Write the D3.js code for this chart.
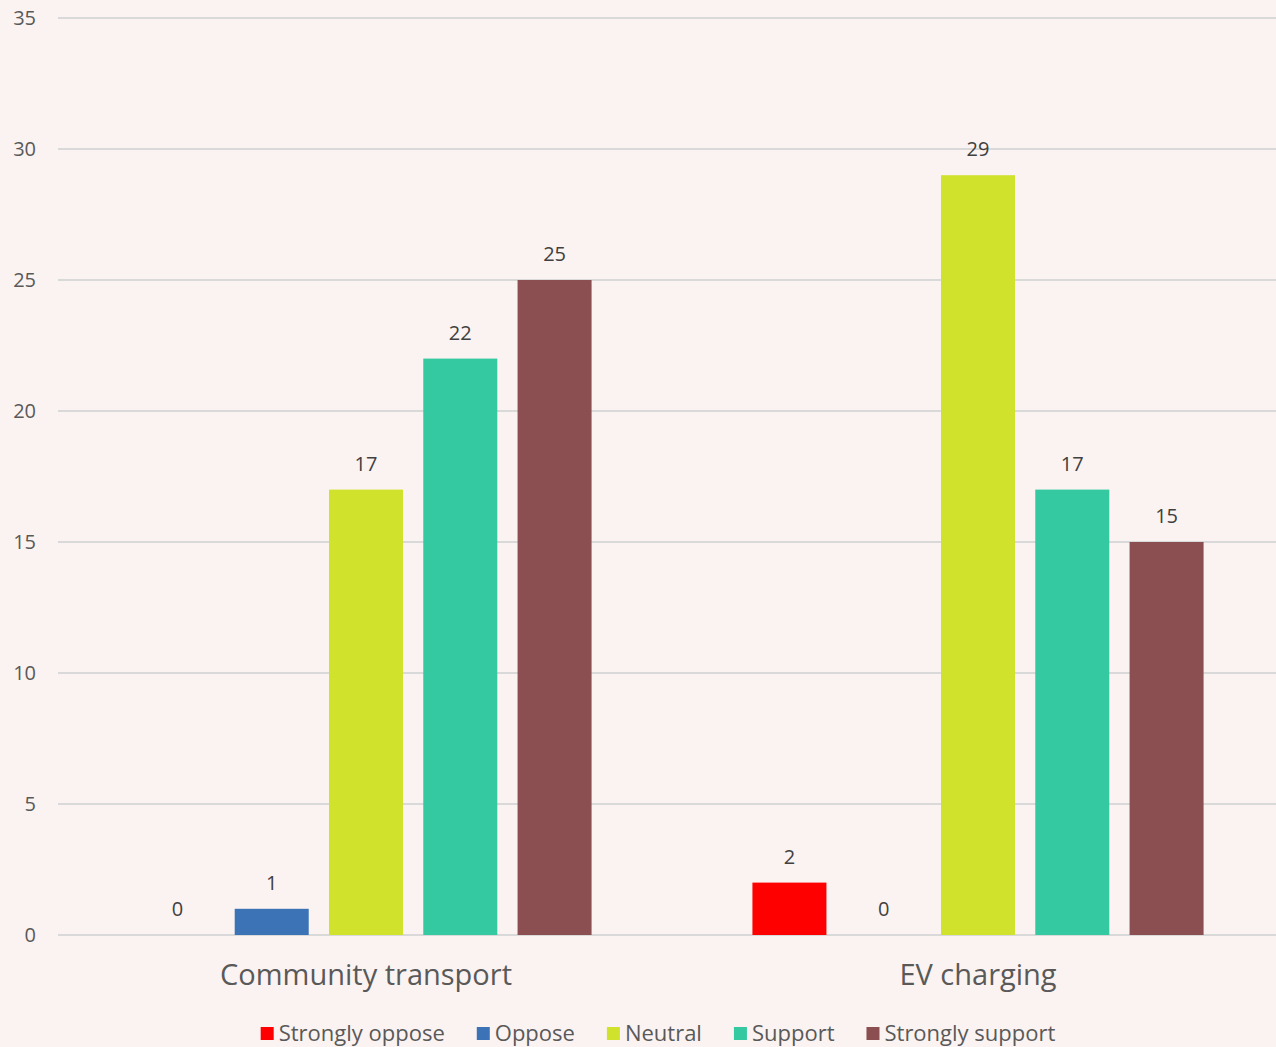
<!DOCTYPE html>
<html>
  <head>
    <meta charset="utf-8">
    <script src="https://d3js.org/d3.v7.min.js"></script>
    <style>
      body { margin: 0px; background-color: #FBF3F1; }
      svg { display: block; background-color: #FBF3F1; }
      .tick-label { fill: #595959; font-size: 20px; font-family: 'Open Sans', sans-serif; }
      .value-label { fill: #404040; font-size: 20px; font-family: 'Open Sans', sans-serif; }
      .cat-label { fill: #595959; font-size: 29px; font-family: 'Open Sans', sans-serif; }
      .legend-label { fill: #595959; font-size: 22px; font-family: 'Open Sans', sans-serif; }
    </style>
  </head>
  <body>
    <div id="graph"></div>
    <script>
      // data
      const categories = ['Community transport', 'EV charging'];
      const seriesNames = ['Strongly oppose', 'Oppose', 'Neutral', 'Support', 'Strongly support'];
      const seriesColors = ['#FF0000', '#3C73B6', '#D0E22C', '#34C9A0', '#8B4F52'];
      const communityValues = [0, 1, 17, 22, 25];
      const evValues = [2, 0, 29, 17, 15];
      const yTicks = [0, 5, 10, 15, 20, 25, 30, 35];

      const valuesByCat = [communityValues, evValues];

      const width = 1276, height = 1047;
      const svg = d3.select('#graph').append('svg')
        .attr('width', width)
        .attr('height', height);

      const yScale = d3.scaleLinear()
        .domain([0, 35])
        .range([935, 18]);

      const x0 = d3.scaleBand()
        .domain(categories)
        .range([60, 1284])
        .padding(0);

      const x1 = d3.scaleBand()
        .domain(seriesNames)
        .range([0, x0.bandwidth()])
        .paddingInner(0.215)
        .paddingOuter(0.853);

      // gridlines
      svg.append('g').selectAll('line')
        .data(yTicks)
        .enter().append('line')
          .attr('x1', 58)
          .attr('x2', width)
          .attr('y1', d => yScale(d))
          .attr('y2', d => yScale(d))
          .attr('stroke', '#D9D9D9')
          .attr('stroke-width', 2);

      // y tick labels
      svg.append('g').selectAll('text')
        .data(yTicks)
        .enter().append('text')
          .attr('class', 'tick-label')
          .attr('x', 36)
          .attr('y', d => yScale(d))
          .attr('dy', '0.35em')
          .attr('text-anchor', 'end')
          .text(d => d);

      // bars
      const groups = svg.append('g').selectAll('g')
        .data(categories)
        .enter().append('g')
          .attr('transform', d => `translate(${x0(d)},0)`);

      const barData = (c, i) => seriesNames.map((s, j) => ({ s: s, v: valuesByCat[i][j], color: seriesColors[j] }));

      groups.selectAll('rect')
        .data(barData)
        .enter().append('rect')
          .attr('x', d => x1(d.s))
          .attr('width', x1.bandwidth())
          .attr('y', d => yScale(d.v))
          .attr('height', d => yScale(0) - yScale(d.v))
          .attr('fill', d => d.color);

      groups.selectAll('text.value-label')
        .data(barData)
        .enter().append('text')
          .attr('class', 'value-label')
          .attr('x', d => x1(d.s) + x1.bandwidth() / 2)
          .attr('y', d => yScale(d.v) - 19)
          .attr('text-anchor', 'middle')
          .text(d => d.v);

      // category labels
      svg.append('g').selectAll('text')
        .data(categories)
        .enter().append('text')
          .attr('class', 'cat-label')
          .attr('x', d => x0(d) + x0.bandwidth() / 2)
          .attr('y', 985)
          .attr('text-anchor', 'middle')
          .text(d => d);

      // legend
      const legendG = svg.append('g');
      let lx = 0;
      seriesNames.forEach((s, i) => {
        const item = legendG.append('g').attr('transform', `translate(${lx},0)`);
        item.append('rect')
          .attr('x', 0)
          .attr('y', 1027)
          .attr('width', 13)
          .attr('height', 13)
          .attr('fill', seriesColors[i]);
        const t = item.append('text')
          .attr('class', 'legend-label')
          .attr('x', 18)
          .attr('y', 1041)
          .text(s);
        lx += 18 + t.node().getComputedTextLength() + 32;
      });
      const legendW = lx - 32;
      legendG.attr('transform', `translate(${658 - legendW / 2},0)`);
    </script>
  </body>
</html>
